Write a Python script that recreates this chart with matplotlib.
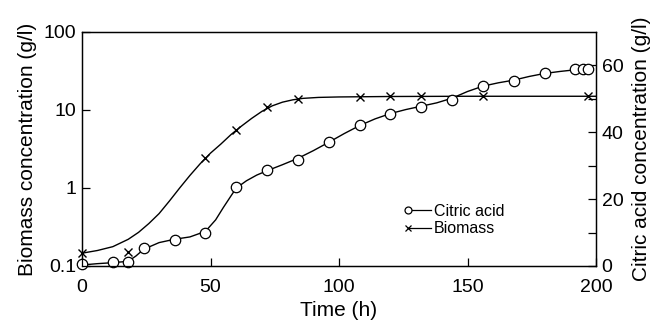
import numpy as np
import matplotlib
matplotlib.use("Agg")
import matplotlib.pyplot as plt
from matplotlib.ticker import FixedLocator, NullLocator
from matplotlib.legend_handler import HandlerLine2D

plt.rcParams['font.family'] = ['Liberation Sans', 'DejaVu Sans']

# measured points
bio_t = [0, 18, 48, 60, 72, 84, 108, 120, 132, 156, 197]
bio_val = [0.146, 0.152, 2.4, 5.5, 10.9, 13.8, 14.6, 15.1, 15.1, 15.1, 15.1]

cit_t = [0, 12, 18, 24, 36, 48, 60, 72, 84, 96, 108, 120, 132, 144, 156, 168, 180, 192, 195, 197]
cit_val = [0.5, 1.1, 1.3, 5.3, 7.8, 9.9, 23.7, 28.7, 31.8, 37.0, 42.1, 45.6, 47.6, 49.8,
           53.8, 55.2, 57.7, 58.8, 58.8, 58.8]

# fitted curves
bio_fit_t = [0, 6, 12, 18, 22, 26, 30, 34, 38, 42, 46, 50, 54, 58, 62, 66, 70, 74, 78,
             82, 86, 92, 100, 120, 150, 200]
bio_fit_val = [0.146, 0.158, 0.177, 0.22, 0.27, 0.35, 0.47, 0.68, 1.0, 1.45, 2.05, 2.8,
               3.65, 4.85, 6.2, 7.8, 9.6, 11.3, 12.6, 13.5, 14.1, 14.5, 14.7, 14.9, 15.0, 15.0]

cit_fit_t = [0, 6, 12, 18, 21, 24, 30, 36, 42, 46, 49, 52, 55, 58, 60, 64, 68, 72, 78, 84,
             90, 96, 102, 108, 114, 120, 126, 132, 138, 144, 150, 156, 162, 168, 174, 180,
             186, 192, 197]
cit_fit_val = [0.3, 0.7, 1.0, 1.4, 3.0, 5.0, 7.0, 8.0, 8.7, 9.8, 11.2, 13.8, 17.5, 21.0,
               23.3, 25.5, 27.2, 28.5, 30.3, 32.2, 34.5, 37.0, 39.6, 42.0, 44.0, 45.6, 46.8,
               47.8, 48.8, 50.2, 52.2, 53.8, 54.8, 55.6, 56.7, 57.6, 58.2, 58.7, 58.8]


class MarkerLeft(HandlerLine2D):
    # legend marker sits at the left end of the line
    def create_artists(self, *args, **kwargs):
        arts = super().create_artists(*args, **kwargs)
        for a in arts:
            a.set_markevery([0])
        return arts


fig = plt.figure(figsize=(6.53, 3.21), dpi=100)
ax = fig.add_axes([82/653, 55/321, 514/653, 234/321])
ax2 = ax.twinx()

ax.plot(bio_fit_t, bio_fit_val, '-', color='black', lw=1.0)
ax.plot(bio_t, bio_val, 'x', color='black', ms=5.5, mew=1.0, clip_on=False)

ax2.plot(cit_fit_t, cit_fit_val, '-', color='black', lw=1.0)
ax2.plot(cit_t, cit_val, 'o', color='black', mfc='white', ms=7.5, mew=0.9, clip_on=False)

ax.set_yscale('log')
ax.set_xlim(0, 200)
ax.set_ylim(0.1, 100)
ax2.set_ylim(0, 70)

ax.set_yticks([0.1, 1, 10, 100])
ax.set_yticklabels(['0.1', '1', '10', '100'])
ax.yaxis.set_minor_locator(NullLocator())
ax.set_xticks([0, 50, 100, 150, 200])
ax2.set_yticks([0, 20, 40, 60])
ax2.yaxis.set_minor_locator(FixedLocator([10, 30, 50]))

for a in (ax, ax2):
    a.tick_params(which='both', direction='in', length=6, width=0.9, labelsize=14, pad=4)
    for s in a.spines.values():
        s.set_linewidth(0.9)
ax.tick_params(axis='x', pad=9)
ax2.tick_params(axis='y', pad=4)

ax.set_xlabel('Time (h)', fontsize=15, labelpad=4)
ax.set_ylabel('Biomass concentration (g/l)', fontsize=15, labelpad=5)
ax2.set_ylabel('Citric acid concentration (g/l)', fontsize=15, labelpad=6)

h_cit = plt.Line2D([], [], color='black', lw=0.9, marker='o', mfc='white', ms=5, mew=0.9)
h_bio = plt.Line2D([], [], color='black', lw=0.9, marker='x', ms=4.5, mew=0.9)
ax.legend([h_cit, h_bio], ['Citric acid', 'Biomass'], loc='upper left',
          bbox_to_anchor=(0.635, 0.265), frameon=False, fontsize=11.5, numpoints=1,
          handlelength=1.4, handletextpad=0.2, labelspacing=0.15, borderpad=0,
          borderaxespad=0, handler_map={plt.Line2D: MarkerLeft()})

fig.savefig('out.png', dpi=100)
